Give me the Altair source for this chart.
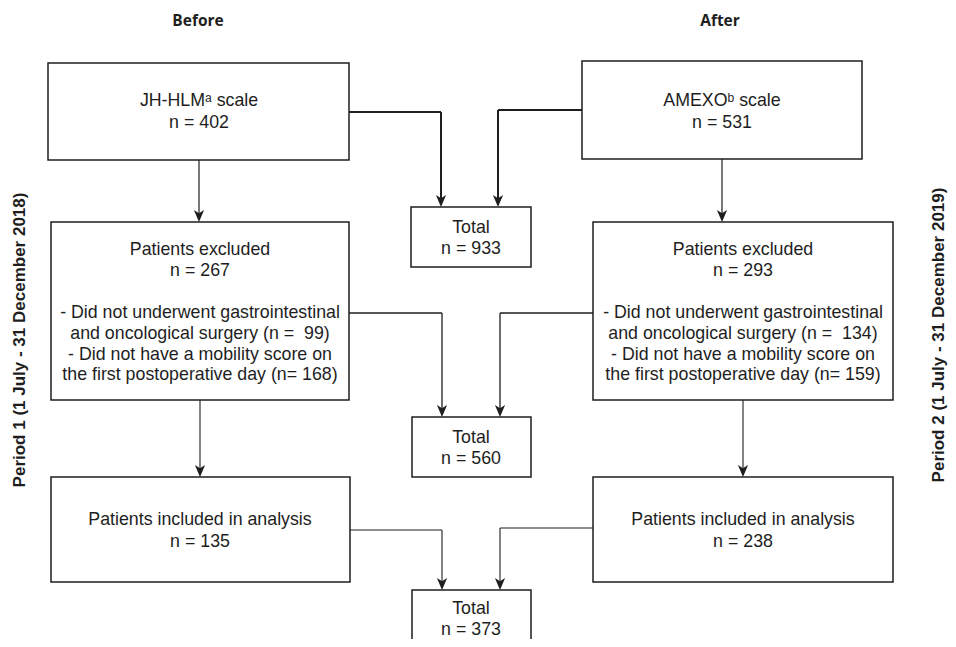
import altair as alt
import pandas as pd

# ---------------- data ----------------
period_heads = ["Before", "After"]
period_labels = ["Period 1 (1 July - 31 December 2018)",
                 "Period 2 (1 July - 31 December 2019)"]
scale_names = ["JH-HLMᵃ scale", "AMEXOᵇ scale"]
scale_n = [402, 531]
excluded_n = [267, 293]
excl_no_surgery_n = [99, 134]
excl_no_score_n = [168, 159]
included_n = [135, 238]
total_n = [933, 560, 373]

# ---------------- layout (pixel frame of the picture) ----------------
col_cx = [200, 743]
boxes = {
    "scale0": (48, 63, 349, 160), "scale1": (582, 61, 862, 159),
    "excl0": (51, 222, 349, 400), "excl1": (593, 222, 893, 400),
    "incl0": (51, 477, 350, 582), "incl1": (593, 477, 893, 582),
    "tot0": (411, 207, 531, 267), "tot1": (412, 417, 531, 477),
    "tot2": (412, 590, 531, 700),
}
box_w = {k: 1.5 for k in boxes}

# text rows
rows = []
def add(t, x, y):
    rows.append({"t": t, "x": x, "y": y})

scale_cx = [199, 722]
for i in range(2):
    add(scale_names[i], scale_cx[i], 101)
    add(f"n = {scale_n[i]}", scale_cx[i], 123)
    add("Patients excluded", col_cx[i], 250)
    add(f"n = {excluded_n[i]}", col_cx[i], 271)
    add("- Did not underwent gastrointestinal", col_cx[i], 313)
    add(f"and oncological surgery (n = \u00a0{excl_no_surgery_n[i]})", col_cx[i], 334)
    add("- Did not have a mobility score on", col_cx[i], 355)
    add(f"the first postoperative day (n= {excl_no_score_n[i]})", col_cx[i], 375)
    add("Patients included in analysis", col_cx[i], 520)
    add(f"n = {included_n[i]}", col_cx[i], 542)
tot_y = [228, 438, 609]
for j in range(3):
    add("Total", 471, tot_y[j])
    add(f"n = {total_n[j]}", 471, tot_y[j] + 21)
text_df = pd.DataFrame(rows)

head_df = pd.DataFrame({"t": period_heads, "x": [198, 720], "y": [21, 21]})
side_df = pd.DataFrame({"t": period_labels, "x": [20, 939], "y": [340, 335]})

# connectors: polylines, last point is arrow tip
paths = [
    ([(199, 160), (199, 222)], 1.2),
    ([(349, 112), (441, 112), (441, 207)], 2.0),
    ([(582, 110), (498, 110), (498, 207)], 2.0),
    ([(722, 159), (722, 222)], 1.2),
    ([(349, 313), (442, 313), (442, 417)], 1.3),
    ([(593, 313), (500, 313), (500, 417)], 1.3),
    ([(200, 400), (200, 477)], 1.1),
    ([(743, 400), (743, 477)], 1.1),
    ([(350, 530), (442, 530), (442, 590)], 1.1),
    ([(593, 528), (500, 528), (500, 590)], 1.1),
]
AH = 6  # arrowhead half size
seg_rows, head_rows = [], []
for pts, w in paths:
    for k in range(len(pts) - 1):
        (xa, ya), (xb, yb) = pts[k], pts[k + 1]
        if k == len(pts) - 2:
            yb = yb - AH
        seg_rows.append({"x": xa, "y": ya, "x2": xb, "y2": yb, "w": w})
    tx, ty = pts[-1]
    head_rows.append({"x": tx, "y": ty - AH})
seg_df = pd.DataFrame(seg_rows)
arrow_df = pd.DataFrame(head_rows)

box_df = pd.DataFrame([
    {"x": b[0], "y": b[1], "x2": b[2], "y2": b[3], "w": box_w[k]}
    for k, b in boxes.items()
])

# ---------------- chart ----------------
X = alt.X("x:Q", scale=alt.Scale(domain=[8, 948]), axis=None)
Y = alt.Y("y:Q", scale=alt.Scale(domain=[8, 639], reverse=True), axis=None)
INK = "#1e1e1e"

rects = alt.Chart(box_df).mark_rect(fill="white", stroke=INK, clip=True).encode(
    x=X, x2="x2:Q", y=Y, y2="y2:Q",
    strokeWidth=alt.StrokeWidth("w:Q", scale=None, legend=None),
)
segs = alt.Chart(seg_df).mark_rule(color=INK).encode(
    x=X, x2="x2:Q", y=Y, y2="y2:Q",
    strokeWidth=alt.StrokeWidth("w:Q", scale=None, legend=None),
)
heads = alt.Chart(arrow_df).mark_point(
    shape="M -0.85 -1 L 0 -0.45 L 0.85 -1 L 0 1 Z", filled=True,
    fill=INK, color=INK, opacity=1, size=(2 * AH) ** 2,
).encode(x=X, y=Y)
texts = alt.Chart(text_df).mark_text(
    font="Liberation Sans", fontSize=17.8, color=INK, align="center", baseline="middle"
).encode(x=X, y=Y, text="t:N")
heads_txt = alt.Chart(head_df).mark_text(
    font="Open Sans", fontSize=15.5, fontWeight="bold", color=INK,
    align="center", baseline="middle"
).encode(x=X, y=Y, text="t:N")
side_txt = alt.Chart(side_df).mark_text(
    font="Liberation Sans", fontSize=17, fontWeight="bold", color=INK,
    align="center", baseline="middle", angle=270
).encode(x=X, y=Y, text="t:N")

chart = alt.layer(segs, rects, heads, texts, heads_txt, side_txt).properties(
    width=940, height=631, padding=0,
    autosize=alt.AutoSizeParams(type="none"),
).configure_view(strokeWidth=0)

chart.save("out.html", embed_options={"renderer": "svg", "actions": False})
